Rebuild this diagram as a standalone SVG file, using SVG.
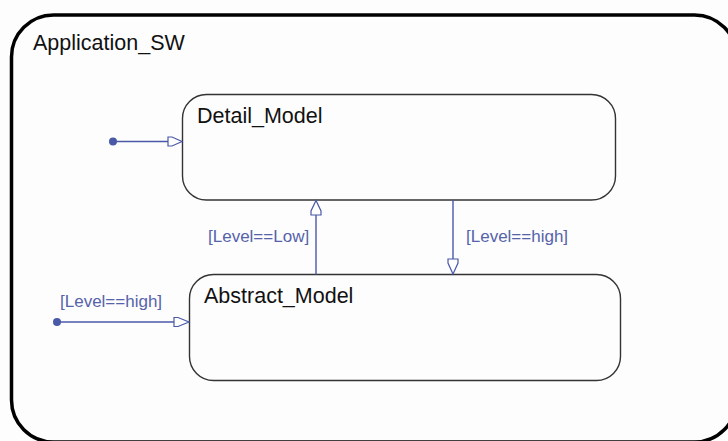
<svg xmlns="http://www.w3.org/2000/svg" width="728" height="441" viewBox="0 0 728 441">
<style>
.state{fill:none;stroke:#333;stroke-width:1.4}
.name{font-family:"Liberation Sans",Arial,sans-serif;font-size:21.5px;fill:#111}
.lbl{font-family:"Liberation Sans",Arial,sans-serif;font-size:17px;fill:#5563aa}
.conn{stroke:#4a58a8;stroke-width:1.4;fill:none}
.head{fill:#fff;stroke:#4a58a8;stroke-width:1.2}
.dot{fill:#4a58a8}
</style>
<rect width="728" height="441" fill="#fdfdfd"/>
<g id="Application_SW">
<rect x="11.5" y="15" width="725" height="427" rx="42" ry="42" fill="none" stroke="#000" stroke-width="3.5"/>
<text class="name" x="33" y="50">Application_SW</text>
</g>
<g id="Detail_Model">
<rect class="state" x="182.5" y="94.5" width="433" height="105.5" rx="24" ry="24"/>
<text class="name" x="197" y="123">Detail_Model</text>
</g>
<g id="Abstract_Model">
<rect class="state" x="189.5" y="274.5" width="431" height="106" rx="24" ry="24"/>
<text class="name" x="204" y="303">Abstract_Model</text>
</g>
<g id="connectors">
<circle class="dot" cx="113" cy="141.5" r="4"/>
<line class="conn" x1="113" y1="141.5" x2="168" y2="141.5"/>
<path class="head" d="M168,137 L172,137 L182,141.5 L172,146 L168,146 Z"/>
<circle class="dot" cx="57" cy="322" r="4"/>
<line class="conn" x1="57" y1="322" x2="174" y2="322"/>
<path class="head" d="M174,317.5 L178,317.5 L189,322 L178,326.5 L174,326.5 Z"/>
<line class="conn" x1="316" y1="274.5" x2="316" y2="215"/>
<path class="head" d="M311,215 L311,211 L316,200.5 L321,211 L321,215 Z"/>
<line class="conn" x1="453" y1="200" x2="453" y2="259"/>
<path class="head" d="M448,259 L448,263 L453,274 L458,263 L458,259 Z"/>
<text class="lbl" x="208" y="242">[Level==Low]</text>
<text class="lbl" x="466" y="242">[Level==high]</text>
<text class="lbl" x="60" y="307">[Level==high]</text>
</g>
</svg>
